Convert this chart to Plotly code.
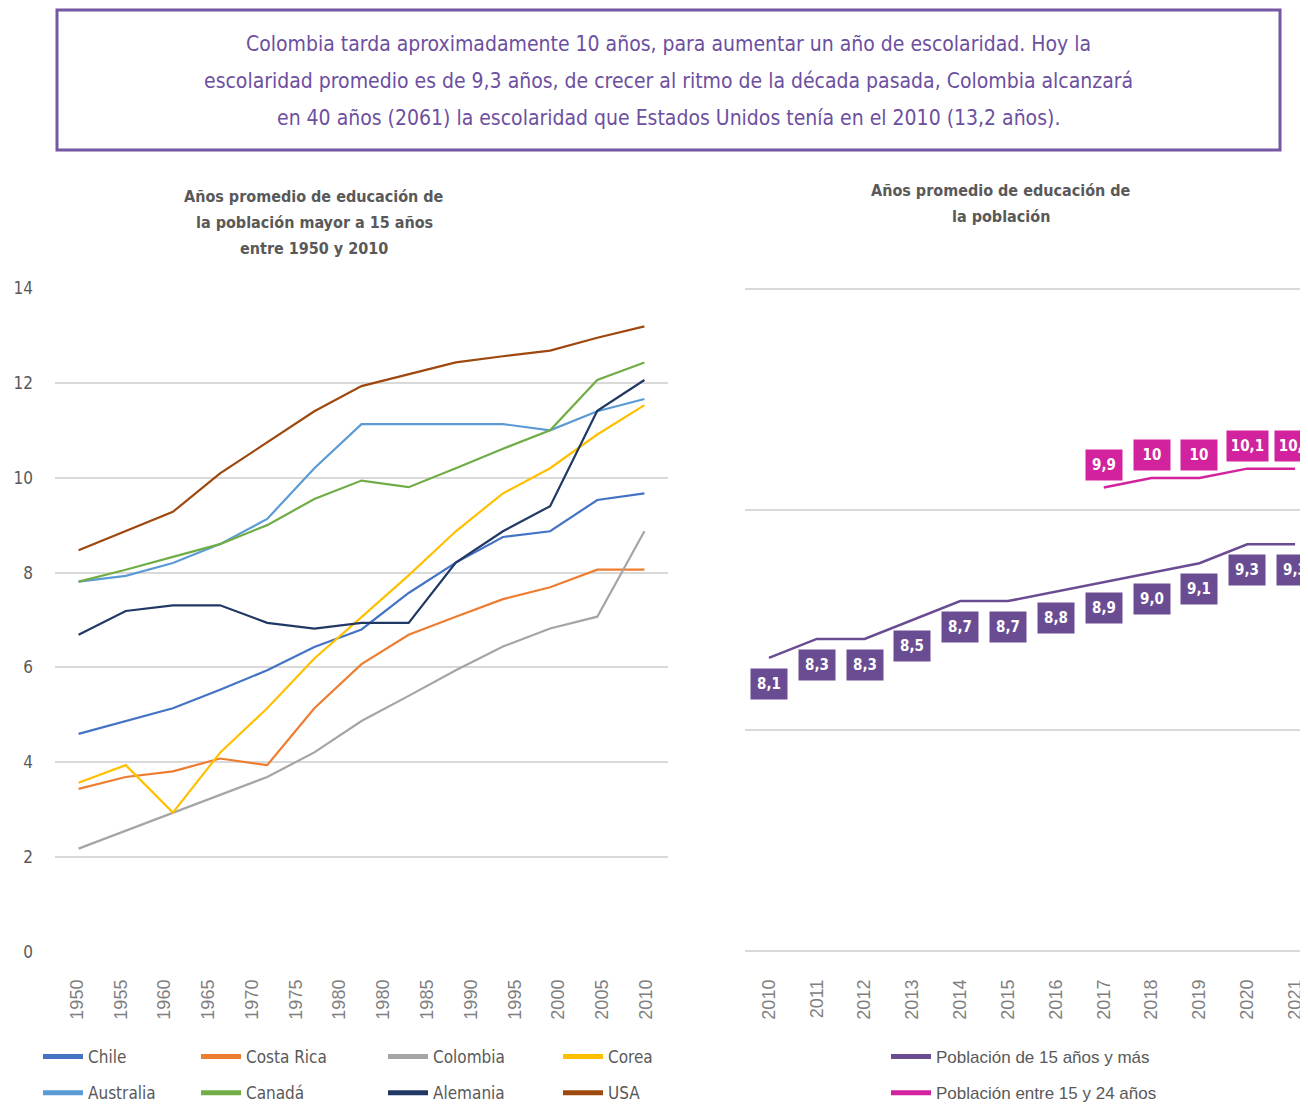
import plotly.graph_objects as go

# ---------------- data ----------------
years_left = ["1950", "1955", "1960", "1965", "1970", "1975", "1980",
              "1985", "1990", "1995", "2000", "2005", "2010"]
tick_labels_left = ["1950", "1955", "1960", "1965", "1970", "1975", "1980",
                    "1980", "1985", "1990", "1995", "2000", "2005", "2010"]

chile = [4.6, 4.87, 5.14, 5.53, 5.94, 6.43, 6.8, 7.57, 8.21, 8.75, 8.87, 9.53, 9.67]
costa_rica = [3.44, 3.69, 3.81, 4.08, 3.94, 5.14, 6.07, 6.69, 7.07, 7.44, 7.69, 8.06, 8.06]
colombia = [2.18, 2.56, 2.94, 3.32, 3.69, 4.21, 4.87, 5.4, 5.94, 6.44, 6.82, 7.07, 8.87]
corea = [3.57, 3.94, 2.94, 4.2, 5.14, 6.19, 7.06, 7.94, 8.87, 9.67, 10.2, 10.91, 11.53]
australia = [7.81, 7.93, 8.2, 8.6, 9.13, 10.2, 11.13, 11.13, 11.13, 11.13, 11.0, 11.4, 11.66]
canada = [7.81, 8.06, 8.33, 8.6, 9.0, 9.55, 9.94, 9.8, 10.2, 10.61, 11.0, 12.06, 12.43]
alemania = [6.69, 7.19, 7.31, 7.31, 6.94, 6.82, 6.94, 6.94, 8.21, 8.87, 9.4, 11.41, 12.06]
usa = [8.47, 8.87, 9.28, 10.09, 10.75, 11.4, 11.93, 12.18, 12.43, 12.56, 12.68, 12.95, 13.19]

years_right = ["2010", "2011", "2012", "2013", "2014", "2015",
               "2016", "2017", "2018", "2019", "2020", "2021"]
pob_15_mas = [8.1, 8.3, 8.3, 8.5, 8.7, 8.7, 8.8, 8.9, 9.0, 9.1, 9.3, 9.3]
pob_15_24 = [None, None, None, None, None, None, None, 9.9, 10, 10, 10.1, 10.1]

header_lines = [
    "Colombia tarda aproximadamente 10 años, para aumentar un año de escolaridad. Hoy la",
    "escolaridad promedio es de 9,3 años, de crecer al ritmo de la década pasada, Colombia alcanzará",
    "en 40 años (2061) la escolaridad que Estados Unidos tenía en el 2010 (13,2 años).",
]
title_left_lines = ["Años promedio de educación de", "la población mayor a 15 años",
                    "entre 1950 y 2010"]
title_right_lines = ["Años promedio de educación de", "la población"]

# ---------------- layout helpers ----------------
OFF = 8                      # page body margin
W, H = 1300, 1098
def fx(px):
    return (px - OFF) / W
def fy(py):
    return 1 - (py - OFF) / H

COND = "DejaVu Sans Condensed, DejaVu Sans, sans-serif"
REG = "Liberation Sans, Arial, sans-serif"
GRAY = "#595959"
GRID = "#D9D9D9"
PURPLE = "#6A4C93"
PINK = "#D3229D"

left_series = [
    ("Chile", chile, "#4472C4", "legend"),
    ("Costa Rica", costa_rica, "#ED7D31", "legend2"),
    ("Colombia", colombia, "#A5A5A5", "legend3"),
    ("Corea", corea, "#FFC000", "legend4"),
    ("Australia", australia, "#5B9BD5", "legend"),
    ("Canadá", canada, "#70AD47", "legend2"),
    ("Alemania", alemania, "#203864", "legend3"),
    ("USA", usa, "#9E480E", "legend4"),
]

fig = go.Figure()

for name, vals, color, _ in left_series:
    fig.add_trace(go.Scatter(
        x=years_left, y=vals, mode="lines", name=name,
        line=dict(color=color, width=2.2), showlegend=False,
        xaxis="x", yaxis="y"))

# axis carrying the category labels of the left chart
fig.add_trace(go.Scatter(x=[None], y=[None], mode="lines", showlegend=False,
                         hoverinfo="skip", xaxis="x3", yaxis="y"))

right_series = [
    ("Población de 15 años y más", pob_15_mas, PURPLE),
    ("Población entre 15 y 24 años", pob_15_24, PINK),
]
for name, vals, color in right_series:
    fig.add_trace(go.Scatter(
        x=years_right, y=vals, mode="lines", name=name,
        line=dict(color=color, width=2.5), showlegend=False,
        xaxis="x2", yaxis="y2"))

# legend entries (thick line swatches)
for name, vals, color, lg in left_series:
    fig.add_trace(go.Scatter(
        x=[None], y=[None], mode="lines", name=name,
        line=dict(color=color, width=5), legend=lg, legendgroup=name,
        xaxis="x", yaxis="y"))
for name, vals, color in right_series:
    fig.add_trace(go.Scatter(
        x=[None], y=[None], mode="lines", name=name,
        line=dict(color=color, width=5), legend="legend5", legendgroup=name,
        xaxis="x2", yaxis="y2"))

# data labels on the right chart
def fmt_one_dec(v):
    return f"{v:.1f}".replace(".", ",")
def fmt_general(v):
    return f"{v:g}".replace(".", ",")

annotations = []
for i, v in enumerate(pob_15_mas):
    t = fmt_one_dec(v)
    annotations.append(dict(
        x=i, y=v, xref="x2", yref="y2", text=f"<b>{t}</b>", showarrow=False,
        yshift=-26, bgcolor=PURPLE, width=32 if len(t) <= 3 else 37, height=26,
        borderpad=2, font=dict(family=COND, size=15, color="white")))
for i, v in enumerate(pob_15_24):
    if v is None:
        continue
    t = fmt_general(v)
    annotations.append(dict(
        x=i, y=v, xref="x2", yref="y2", text=f"<b>{t}</b>", showarrow=False,
        yshift=23, bgcolor=PINK, width=32 if len(t) <= 3 else 37, height=26,
        borderpad=2, font=dict(family=COND, size=15, color="white")))

# header text (inside the framed box)
for line, py in zip(header_lines, [44, 81, 118]):
    annotations.append(dict(
        x=fx(668), y=fy(py), xref="paper", yref="paper", text=line,
        showarrow=False, xanchor="center", yanchor="middle",
        font=dict(family=COND, size=21, color="#6D4F9F")))

# chart titles
for line, py in zip(title_left_lines, [197, 222, 248]):
    annotations.append(dict(
        x=fx(314), y=fy(py), xref="paper", yref="paper", text=f"<b>{line}</b>",
        showarrow=False, xanchor="center", yanchor="middle",
        font=dict(family=COND, size=16, color=GRAY)))
for line, py in zip(title_right_lines, [190, 216]):
    annotations.append(dict(
        x=fx(1001), y=fy(py), xref="paper", yref="paper", text=f"<b>{line}</b>",
        showarrow=False, xanchor="center", yanchor="middle",
        font=dict(family=COND, size=16, color=GRAY)))

y_dom = [fy(953), fy(287)]

leg_common = dict(orientation="v", xanchor="left", yanchor="top",
                  bgcolor="rgba(0,0,0,0)", traceorder="grouped",
                  tracegroupgap=11, itemwidth=40,
                  font=dict(family=COND, size=17, color=GRAY))
leg_y = fy(1039)

fig.update_layout(
    width=W, height=H, autosize=False,
    margin=dict(l=0, r=0, t=0, b=0, autoexpand=False),
    paper_bgcolor="white", plot_bgcolor="white",
    showlegend=True,
    xaxis=dict(domain=[fx(55), fx(668)], type="category", range=[-0.5, 12.5],
               showticklabels=False, showgrid=False, zeroline=False, showline=False,
               anchor="y", automargin=False),
    xaxis3=dict(overlaying="x", anchor="y", side="bottom", type="linear",
                range=[-0.5, len(tick_labels_left) - 0.5],
                tickvals=list(range(len(tick_labels_left))), ticktext=tick_labels_left,
                tickangle=-90, showgrid=False, zeroline=False, showline=False,
                ticks="", ticklabelstandoff=22, automargin=False,
                tickfont=dict(family=REG, size=18, color="#7F7F7F")),
    yaxis=dict(domain=y_dom, range=[-0.02, 14.02], tickvals=list(range(0, 15, 2)),
               showgrid=True, gridcolor=GRID, gridwidth=1.5, automargin=False,
               zeroline=False, showline=False, ticks="", ticklabelstandoff=21,
               tickfont=dict(family=COND, size=17, color=GRAY), anchor="x"),
    xaxis2=dict(domain=[fx(745), 1.0], type="category", range=[-0.5, 11.27],
                tickangle=-90, showgrid=False, zeroline=False, showline=False,
                ticks="", ticklabelstandoff=22, automargin=False,
                tickfont=dict(family=REG, size=18, color="#7F7F7F"), anchor="y2"),
    yaxis2=dict(domain=y_dom, range=[4.98, 12.02],
                tickvals=[5, 5 + 7 / 3, 5 + 14 / 3, 12],
                showgrid=True, gridcolor=GRID, gridwidth=1.5, automargin=False,
                zeroline=False, showline=False, showticklabels=False, ticks="",
                anchor="x2"),
    legend=dict(x=fx(38), y=leg_y, **leg_common),
    legend2=dict(x=fx(196), y=leg_y, **leg_common),
    legend3=dict(x=fx(383), y=leg_y, **leg_common),
    legend4=dict(x=fx(558), y=leg_y, **leg_common),
    legend5=dict(x=fx(886), y=leg_y, **{**leg_common,
                 "font": dict(family=REG, size=17, color=GRAY)}),
    annotations=annotations,
    shapes=[dict(type="rect", xref="paper", yref="paper",
                 x0=fx(57), x1=fx(1280), y0=fy(150), y1=fy(10),
                 line=dict(color="#7557A3", width=3), fillcolor="rgba(0,0,0,0)")],
    hovermode=False,
)

fig.write_html("out.html")
